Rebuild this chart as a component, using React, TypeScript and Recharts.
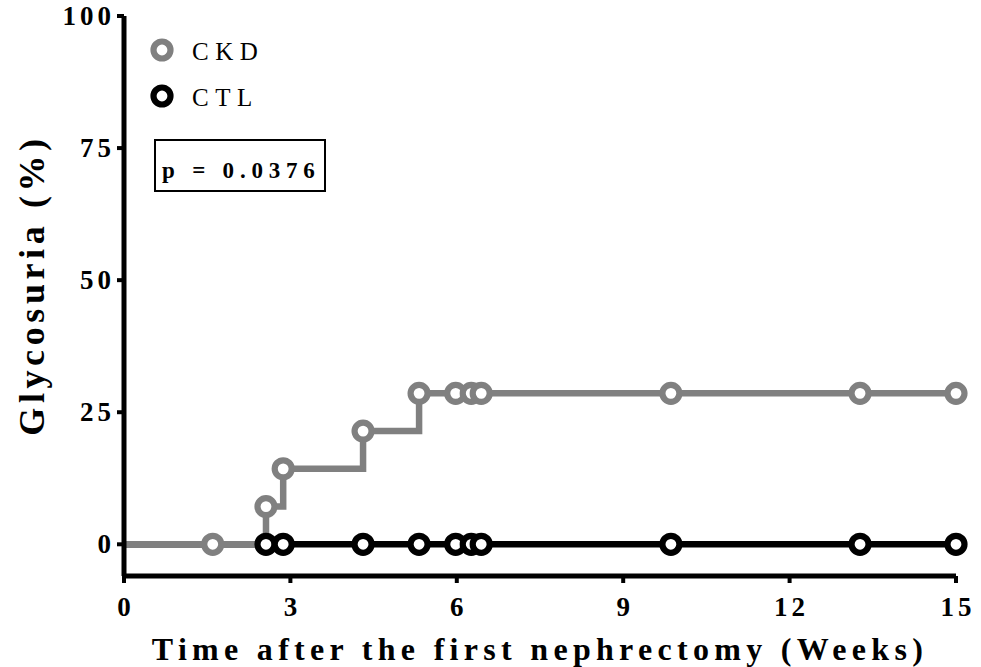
import React from 'react';
import { ComposedChart, Line, XAxis, YAxis, Label } from 'recharts';

// ---- data ----
const ckdWeeks = [0, 1.6, 2.56, 2.87, 4.31, 5.32, 5.98, 6.26, 6.44, 9.86, 13.27, 15];
const ckdValues = [0, 0, 7.14, 14.29, 21.43, 28.57, 28.57, 28.57, 28.57, 28.57, 28.57, 28.57];
const ctlWeeks = [0, 2.56, 2.87, 4.31, 5.32, 5.98, 6.26, 6.44, 9.86, 13.27, 15];
const ctlValues = [0, 0, 0, 0, 0, 0, 0, 0, 0, 0, 0];
const xTicks = [0, 3, 6, 9, 12, 15];
const yTicks = [0, 25, 50, 75, 100];
const seriesNames = ['CKD', 'CTL'];
const pValueText = 'p = 0.0376';
const xTitle = 'Time after the first nephrectomy (Weeks)';
const yTitle = 'Glycosuria (%)';

const ckdData = ckdWeeks.map((t, i) => ({ t, v: ckdValues[i] }));
const ctlData = ctlWeeks.map((t, i) => ({ t, v: ctlValues[i] }));

const GRAY = '#808080';
const BLACK = '#000000';
const SERIF = 'Times New Roman, Liberation Serif, DejaVu Serif, serif';
const boldStyle: React.CSSProperties = { fontFamily: SERIF, fontWeight: 700 };
const regStyle: React.CSSProperties = { fontFamily: SERIF, fontWeight: 400 };

const makeDot = (color: string) => (props: any) => {
  const { cx, cy, index } = props;
  if (index === 0 || cx == null || cy == null) return <g key={`d-${color}-${index}`} />;
  return (
    <circle
      key={`d-${color}-${index}`}
      cx={cx}
      cy={cy}
      r={8.5}
      fill="#fff"
      stroke={color}
      strokeWidth={6.2}
    />
  );
};

const YTick = (props: any) => {
  const { x, y, payload } = props;
  return (
    <text x={x} y={y} dy={9} textAnchor="end" style={boldStyle} fontSize={27} letterSpacing={4} fill="#000">
      {payload.value}
    </text>
  );
};

const XTick = (props: any) => {
  const { x, y, payload } = props;
  return (
    <text x={x} y={y} dy={29} dx={2} textAnchor="middle" style={boldStyle} fontSize={27} letterSpacing={4} fill="#000">
      {payload.value}
    </text>
  );
};

export default function App() {
  return (
    <div style={{ position: 'absolute', left: 0, top: 0, width: 981, height: 667, background: '#fff' }}>
      <ComposedChart width={981} height={667} margin={{ top: 16, right: 25, bottom: 11, left: 64 }}>
        <XAxis
          type="number"
          dataKey="t"
          domain={[0, 15]}
          ticks={xTicks}
          height={80}
          axisLine={{ stroke: BLACK, strokeWidth: 5 }}
          tickLine={{ stroke: BLACK, strokeWidth: 4 }}
          tickSize={7}
          tickMargin={4}
          tick={<XTick />}
        >
          <Label
            content={() => (
              <text x={540} y={660} textAnchor="middle" style={boldStyle} fontSize={32} letterSpacing={5.3} fill="#000">
                {xTitle}
              </text>
            )}
          />
        </XAxis>
        <YAxis
          type="number"
          domain={[-6, 100]}
          ticks={yTicks}
          width={60}
          axisLine={{ stroke: BLACK, strokeWidth: 5 }}
          tickLine={{ stroke: BLACK, strokeWidth: 4 }}
          tickSize={7}
          tickMargin={2}
          tick={<YTick />}
        >
          <Label
            content={() => (
              <text
                transform="translate(44,287) rotate(-90)"
                x={2}
                y={0}
                textAnchor="middle"
                style={boldStyle}
                fontSize={36}
                letterSpacing={4.6}
                fill="#000"
              >
                {yTitle}
              </text>
            )}
          />
        </YAxis>
        <Line
          data={ctlData}
          dataKey="v"
          type="stepAfter"
          stroke={BLACK}
          strokeWidth={6.5}
          dot={makeDot(BLACK)}
          activeDot={false}
          isAnimationActive={false}
          name={seriesNames[1]}
        />
        <Line
          data={ckdData}
          dataKey="v"
          type="stepAfter"
          stroke={GRAY}
          strokeWidth={6.5}
          dot={makeDot(GRAY)}
          activeDot={false}
          isAnimationActive={false}
          name={seriesNames[0]}
        />
      </ComposedChart>
      <svg width={981} height={667} style={{ position: 'absolute', left: 0, top: 0, pointerEvents: 'none' }}>
        <circle cx={162} cy={50} r={8.5} fill="#fff" stroke={GRAY} strokeWidth={6.2} />
        <text x={192} y={60} style={regStyle} fontSize={25} letterSpacing={6.5} fill="#000">
          {seriesNames[0]}
        </text>
        <circle cx={162} cy={96} r={8.5} fill="#fff" stroke={BLACK} strokeWidth={6.2} />
        <text x={192} y={106} style={regStyle} fontSize={25} letterSpacing={6.5} fill="#000">
          {seriesNames[1]}
        </text>
        <rect x={155} y={140} width={170} height={51} fill="none" stroke="#000" strokeWidth={2} />
        <text x={162} y={178} style={boldStyle} fontSize={23} letterSpacing={5.8} fill="#000">
          {pValueText}
        </text>
      </svg>
    </div>
  );
}
